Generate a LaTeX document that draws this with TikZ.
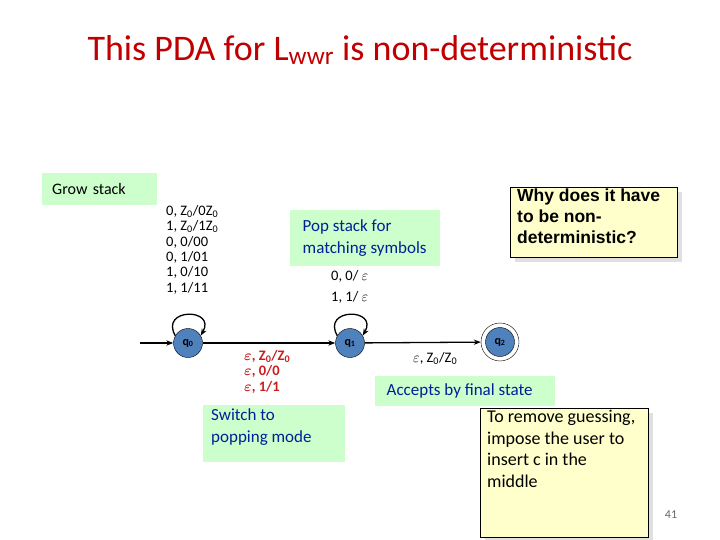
\documentclass[tikz,border=0pt]{standalone}
\usepackage{amsmath}
\usepackage{fontspec}
\setmainfont{Carlito}
\newfontfamily\arialf{Liberation Sans}
\usetikzlibrary{arrows.meta}
\definecolor{gbox}{RGB}{204,255,204}
\definecolor{ybox}{RGB}{255,255,204}
\definecolor{sfill}{RGB}{79,129,189}
\definecolor{btxt}{RGB}{0,32,150}
\definecolor{rtxt}{RGB}{200,30,30}
\definecolor{ttl}{RGB}{192,0,0}
\begin{document}
\begin{tikzpicture}[x=1pt,y=-1pt,
  state/.style={circle,draw=black,fill=sfill,minimum size=29pt,inner sep=0pt,font=\bfseries\fontsize{12}{13}\selectfont},
  gnote/.style={fill=gbox,anchor=north west,align=left,inner sep=0pt,font=\fontsize{17}{22}\selectfont,text=btxt},
  ynote/.style={fill=ybox,draw=black,anchor=north west,align=left,inner sep=0pt},
  lbl/.style={align=left,font=\fontsize{14.5}{15.4}\selectfont,inner sep=0pt},
  tr/.style={-{Stealth[length=7pt]},line width=1.3pt}]
\useasboundingbox (0,0) rectangle (720,540);
\node[font=\fontsize{36}{40}\selectfont,text=ttl] (title) at (360,50) {This PDA for L\textsubscript{wwr} is non-deterministic};
\node[gnote,text=black,minimum width=115pt,minimum height=32pt,text width=105pt,font=\fontsize{16}{20}\selectfont] (grow) at (42,173) {\hspace{5pt}Grow stack};
\node[gnote,minimum width=150pt,minimum height=56pt] (pop) at (290,210) {\parbox[c][56pt][c]{145pt}{\hspace*{10pt}Pop stack for\\\hspace*{10pt}matching symbols}};
\node[gnote,minimum width=180pt,minimum height=30pt] (acc) at (375,376) {\parbox[c][30pt][c]{175pt}{\hspace*{9pt}Accepts by final state}};
\node[gnote,minimum width=142pt,minimum height=57pt] (sw) at (203,405) {\parbox[t][57pt][t]{140pt}{\vspace{3pt}\hspace*{7pt}Switch to\\\hspace*{7pt}popping mode}};
\fill[black!12] (515,192) rectangle (682,262);
\node[ynote,minimum width=167pt,minimum height=70pt] (why) at (510,187) {\parbox[t][70pt][t]{165pt}{\vspace{2pt}\hspace*{6pt}\arialf\bfseries\fontsize{17.5}{21}\selectfont Why does it have\\\hspace*{6pt}to be non-\\\hspace*{6pt}deterministic?}};
\fill[black!12] (485,413) rectangle (653,540);
\node[ynote,minimum width=168pt,minimum height=129pt] (rem) at (480,408) {\parbox[t][129pt][t]{166pt}{\fontsize{18}{21.5}\selectfont\vspace{2pt}\hspace*{6pt}To remove guessing,\\\hspace*{6pt}impose the user to\\\hspace*{6pt}insert c in the\\\hspace*{6pt}middle}};
\node[font=\fontsize{12}{13}\selectfont,text=black!60] (pg) at (671,515) {41};
\node[state] (q0) at (188,343) {q\textsubscript{0}};
\node[state] (q1) at (350,343) {q\textsubscript{1}};
\node[state] (q2) at (500,342) {q\textsubscript{2}};
\node[circle,draw=black,minimum size=38pt,inner sep=0pt] (q2o) at (q2) {};
\coordinate (start) at (140,343);
\draw[tr] (start) -- (q0);
\draw[tr] (q0) -- (q1);
\draw[tr] (q1) -- (q2o);
\draw[tr] (q0.150) .. controls +(-16,-28) and +(16,-28) .. (q0.30);
\draw[tr] (q1.150) .. controls +(-16,-28) and +(16,-28) .. (q1.30);
\node[lbl,anchor=north west] (l0) at (166,205) {0, Z\textsubscript{0}/0Z\textsubscript{0}\\1, Z\textsubscript{0}/1Z\textsubscript{0}\\0, 0/00\\0, 1/01\\1, 0/10\\1, 1/11};
\node[lbl,anchor=north west,font=\fontsize{14.5}{21}\selectfont] (l1) at (331,270) {0, 0/ $\varepsilon$\\1, 1/ $\varepsilon$};
\node[lbl,anchor=north west,text=rtxt,font=\bfseries\fontsize{14.5}{15.4}\selectfont] (l01) at (244,350) {$\boldsymbol{\varepsilon}$, Z\textsubscript{0}/Z\textsubscript{0}\\$\boldsymbol{\varepsilon}$, 0/0\\$\boldsymbol{\varepsilon}$, 1/1};
\node[lbl,anchor=north west] (l12) at (413,352) {$\varepsilon$, Z\textsubscript{0}/Z\textsubscript{0}};
\end{tikzpicture}
\end{document}
